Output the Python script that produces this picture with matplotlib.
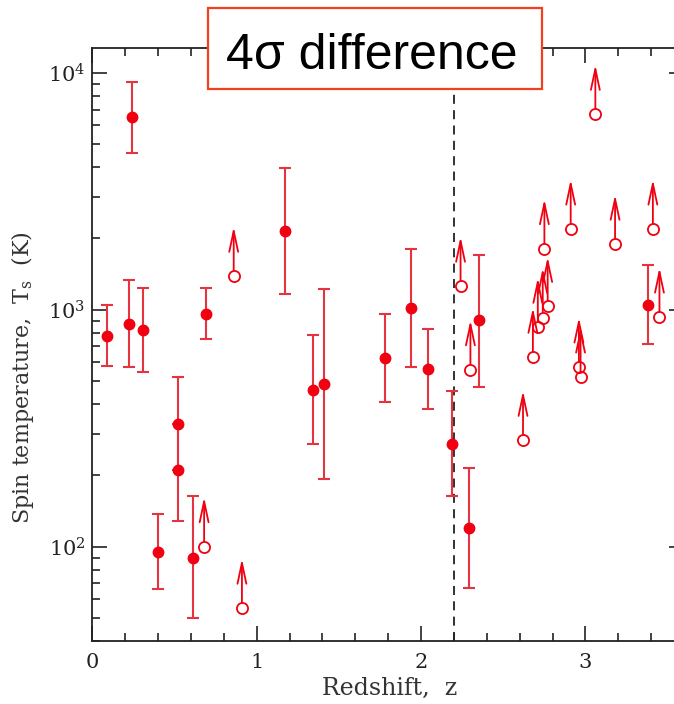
import matplotlib
matplotlib.use('Agg')
import matplotlib.pyplot as plt
from matplotlib.patches import Rectangle
from matplotlib.ticker import LogLocator, MultipleLocator, NullFormatter

plt.rcParams['font.family'] = 'DejaVu Serif'
plt.rcParams['mathtext.fontset'] = 'dejavuserif'

# detections: redshift, T_s, upper end of bar, lower end of bar
det_z = [0.09, 0.22, 0.31, 0.24, 0.69, 0.52, 0.52, 0.40, 0.61, 1.17, 1.34, 1.41,
         1.78, 1.94, 2.04, 2.19, 2.29, 2.35, 3.38]
det_t = [774, 873, 818, 6490, 964, 328, 210, 95, 90, 2140, 459, 485,
         625, 1016, 560, 270, 120, 902, 1052]
det_hi = [1045, 1330, 1236, 9160, 1240, 518, 328, 138, 163, 3970, 780, 1227,
          955, 1800, 832, 452, 214, 1710, 1542]
det_lo = [578, 571, 546, 4590, 752, 210, 128, 66, 50, 1165, 272, 193,
          410, 571, 380, 163, 67, 474, 716]

# lower limits (open circles with arrows)
lim_z = [0.86, 0.68, 0.91, 2.24, 2.30, 2.62, 3.06, 2.91, 3.18, 3.41, 2.75,
         2.77, 2.74, 2.71, 2.68, 2.96, 2.97, 3.45]
lim_t = [1384, 100, 55, 1257, 558, 281, 6680, 2190, 1890, 2190, 1810,
         1033, 927, 843, 630, 573, 520, 931]

red = '#f00010'
barred = '#e5343f'

fig = plt.figure(figsize=(6.74, 7.04), dpi=100)
ax = fig.add_axes([0.137, 0.0895, 0.878, 0.842])

yerr = [[t - lo for t, lo in zip(det_t, det_lo)],
        [hi - t for t, hi in zip(det_t, det_hi)]]
ax.errorbar(det_z, det_t, yerr=yerr, fmt='o', color=red, ecolor=barred,
            elinewidth=1.5, capsize=4, capthick=1.5, markersize=7.5, zorder=3)

ax.plot(lim_z, lim_t, 'o', mfc='none', mec=red, mew=1.3, markersize=8, zorder=3)
for z, t in zip(lim_z, lim_t):
    ax.annotate('', xy=(z, t * 1.62), xytext=(z, t),
                arrowprops=dict(arrowstyle='->,head_length=1.5,head_width=0.32',
                                color=red, lw=1.3, shrinkA=4, shrinkB=0))

ax.axvline(2.2, color='#222222', ls=(0, (5, 3.5)), lw=1.3, zorder=2)

ax.set_yscale('log')
ax.set_xlim(0, 3.6)
ax.set_ylim(40, 1.27e4)

ax.xaxis.set_major_locator(MultipleLocator(1))
ax.xaxis.set_minor_locator(MultipleLocator(0.2))
ax.yaxis.set_major_locator(LogLocator(base=10, numticks=10))
ax.yaxis.set_minor_locator(LogLocator(base=10, subs=range(2, 10), numticks=20))
ax.yaxis.set_minor_formatter(NullFormatter())

ax.tick_params(which='both', direction='in', top=True, right=True,
               colors='#222222', width=1.2)
ax.tick_params(which='major', length=11, labelsize=15)
ax.tick_params(which='minor', length=5.5)
ax.tick_params(axis='x', which='major', pad=9)
ax.tick_params(axis='y', which='major', pad=5)
for s in ax.spines.values():
    s.set_linewidth(1.3)
    s.set_color('#222222')

ax.set_xlabel('Redshift,  z', fontsize=17, color='#333333')
ax.set_ylabel('Spin temperature,  T$_{\\rm s}$  (K)', fontsize=16, color='#333333')
ax.xaxis.set_label_coords(0.503, -0.06)
ax.yaxis.set_label_coords(-0.095, 0.444)

# highlighted caption box
fig.patches.append(Rectangle((0.3086, 0.8736), 0.4955, 0.115,
                             transform=fig.transFigure, facecolor='white',
                             edgecolor='#f2401e', lw=1.6, zorder=5))
fig.text(0.552, 0.902, '4σ difference', fontsize=36, family='Liberation Sans',
         ha='center', va='baseline', color='black', zorder=6)

fig.savefig('out.png', dpi=100)
